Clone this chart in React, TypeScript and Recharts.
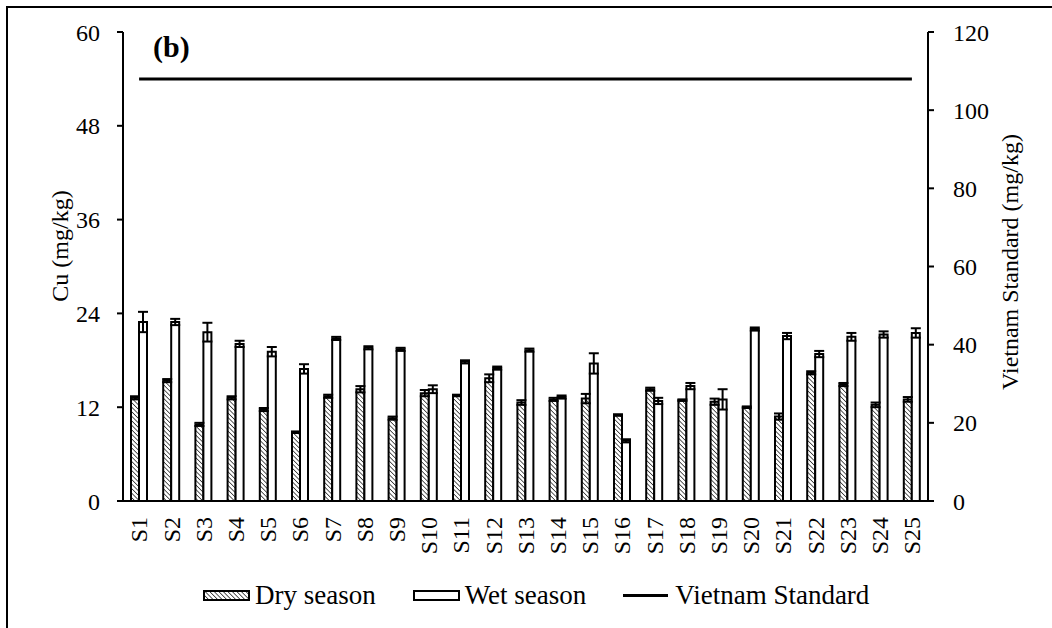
import React from 'react';
import { ComposedChart, Bar, Line, XAxis, YAxis, ErrorBar } from 'recharts';

const sites = [
  'S1', 'S2', 'S3', 'S4', 'S5', 'S6', 'S7', 'S8', 'S9', 'S10', 'S11', 'S12', 'S13',
  'S14', 'S15', 'S16', 'S17', 'S18', 'S19', 'S20', 'S21', 'S22', 'S23', 'S24', 'S25',
];
const drySeason = [13.2, 15.4, 9.8, 13.2, 11.7, 8.8, 13.4, 14.3, 10.6, 13.8, 13.5, 15.7, 12.6, 13.0, 13.1, 11.0, 14.3, 12.9, 12.7, 12.0, 10.8, 16.4, 14.9, 12.3, 13.0];
const dryErr = [0.2, 0.2, 0.2, 0.2, 0.2, 0.1, 0.2, 0.4, 0.2, 0.4, 0.1, 0.5, 0.3, 0.2, 0.6, 0.1, 0.2, 0.1, 0.4, 0.1, 0.4, 0.2, 0.2, 0.3, 0.3];
const wetSeason = [22.9, 22.9, 21.6, 20.1, 19.1, 16.9, 20.8, 19.6, 19.4, 14.3, 17.8, 17.0, 19.3, 13.3, 17.6, 7.7, 12.8, 14.7, 13.0, 22.0, 21.1, 18.8, 21.0, 21.3, 21.5];
const wetErr = [1.3, 0.4, 1.2, 0.4, 0.6, 0.6, 0.2, 0.2, 0.2, 0.5, 0.2, 0.2, 0.2, 0.2, 1.3, 0.2, 0.4, 0.4, 1.3, 0.2, 0.4, 0.4, 0.5, 0.4, 0.6];
const vnStandard = 108; // QCVN limit for Cu, mg/kg

const cuTicks = [0, 12, 24, 36, 48, 60];
const stdTicks = [0, 20, 40, 60, 80, 100, 120];

const data = sites.map((name, i) => ({
  name,
  dry: drySeason[i],
  dryErr: dryErr[i],
  wet: wetSeason[i],
  wetErr: wetErr[i],
  standard: vnStandard,
}));

const FONT = "'Liberation Serif', 'DejaVu Serif', serif";
const tickStyle = { fill: '#000', fontSize: 24, fontFamily: FONT };

const Hatch = ({ id }: { id: string }) => (
  <pattern id={id} patternUnits="userSpaceOnUse" width={3.2} height={3.2} patternTransform="rotate(-45)">
    <rect width={3.2} height={3.2} fill="#fff" />
    <line x1={0} y1={0} x2={0} y2={3.2} stroke="#333" strokeWidth={1.6} />
  </pattern>
);

// site labels run bottom-to-top, ending just under the axis
const SiteTick = (props: any) => {
  const { x, y, payload } = props;
  return (
    <text
      x={x}
      y={y}
      transform={`rotate(-90, ${x}, ${y})`}
      textAnchor="end"
      dy="0.35em"
      fill="#000"
      style={{ fontFamily: FONT, fontSize: 24 }}
    >
      {payload.value}
    </text>
  );
};

const legendText: React.CSSProperties = { fontFamily: FONT, fontSize: 27, color: '#000', lineHeight: '27px' };

function LegendRow() {
  return (
    <div style={{ position: 'absolute', left: 203, top: 582, display: 'flex', alignItems: 'center', gap: 37 }}>
      <div style={{ display: 'flex', alignItems: 'center', gap: 5 }}>
        <svg width={47} height={11}>
          <defs><Hatch id="hatchLegend" /></defs>
          <rect x={1} y={1} width={45} height={9} fill="url(#hatchLegend)" stroke="#000" strokeWidth={2} />
        </svg>
        <span style={legendText}>Dry season</span>
      </div>
      <div style={{ display: 'flex', alignItems: 'center', gap: 5 }}>
        <svg width={47} height={11}>
          <rect x={1} y={1} width={45} height={9} fill="#fff" stroke="#000" strokeWidth={2} />
        </svg>
        <span style={legendText}>Wet season</span>
      </div>
      <div style={{ display: 'flex', alignItems: 'center', gap: 7 }}>
        <svg width={45} height={11}>
          <line x1={0} y1={5.5} x2={45} y2={5.5} stroke="#000" strokeWidth={3} />
        </svg>
        <span style={legendText}>Vietnam Standard</span>
      </div>
    </div>
  );
}

const axisTitle: React.CSSProperties = {
  position: 'absolute',
  transform: 'translate(-50%, -50%) rotate(-90deg)',
  whiteSpace: 'nowrap',
  fontFamily: FONT,
  fontSize: 24,
  color: '#000',
};

export default function App() {
  return (
    <div style={{ position: 'fixed', left: 0, top: 0, width: 1052, height: 628, overflow: 'hidden', background: '#fff', fontFamily: FONT }}>
      <div style={{ position: 'absolute', left: 6, top: 6, width: 1200, height: 800, border: '2.5px solid #000' }} />
      <ComposedChart
        width={1052}
        height={628}
        data={data}
        margin={{ top: 32, right: 0, left: 0, bottom: 0 }}
        barGap={0}
        barSize={8}
        style={{ position: 'absolute', left: 0, top: 0, fontFamily: FONT }}
      >
        <defs>
          <Hatch id="hatchDry" />
        </defs>
        <XAxis
          dataKey="name"
          height={127}
          tickLine={false}
          tickSize={0}
          tickMargin={16}
          interval={0}
          axisLine={{ stroke: '#000', strokeWidth: 2 }}
          tick={<SiteTick />}
        />
        <YAxis
          yAxisId="left"
          width={123}
          domain={[0, 60]}
          ticks={cuTicks}
          tickSize={6}
          tickMargin={17}
          axisLine={{ stroke: '#000', strokeWidth: 2 }}
          tickLine={{ stroke: '#000', strokeWidth: 2 }}
          tick={tickStyle}
        />
        <YAxis
          yAxisId="right"
          orientation="right"
          width={124}
          domain={[0, 120]}
          ticks={stdTicks}
          tickSize={6}
          tickMargin={19}
          axisLine={{ stroke: '#000', strokeWidth: 2 }}
          tickLine={{ stroke: '#000', strokeWidth: 2 }}
          tick={tickStyle}
        />
        <Bar yAxisId="left" dataKey="dry" name="Dry season" fill="url(#hatchDry)" stroke="#000" strokeWidth={2} isAnimationActive={false}>
          <ErrorBar dataKey="dryErr" width={5} stroke="#000" strokeWidth={2} direction="y" />
        </Bar>
        <Bar yAxisId="left" dataKey="wet" name="Wet season" fill="#fff" stroke="#000" strokeWidth={2} isAnimationActive={false}>
          <ErrorBar dataKey="wetErr" width={5} stroke="#000" strokeWidth={2} direction="y" />
        </Bar>
        <Line
          yAxisId="right"
          dataKey="standard"
          name="Vietnam Standard"
          stroke="#000"
          strokeWidth={3}
          dot={false}
          activeDot={false}
          isAnimationActive={false}
        />
      </ComposedChart>
      <div style={{ position: 'absolute', left: 153, top: 32, fontFamily: FONT, fontSize: 30, fontWeight: 'bold', lineHeight: '30px' }}>
        (b)
      </div>
      <div style={{ ...axisTitle, left: 60, top: 246 }}>Cu (mg/kg)</div>
      <div style={{ ...axisTitle, left: 1010, top: 262 }}>Vietnam Standard (mg/kg)</div>
      <LegendRow />
    </div>
  );
}
